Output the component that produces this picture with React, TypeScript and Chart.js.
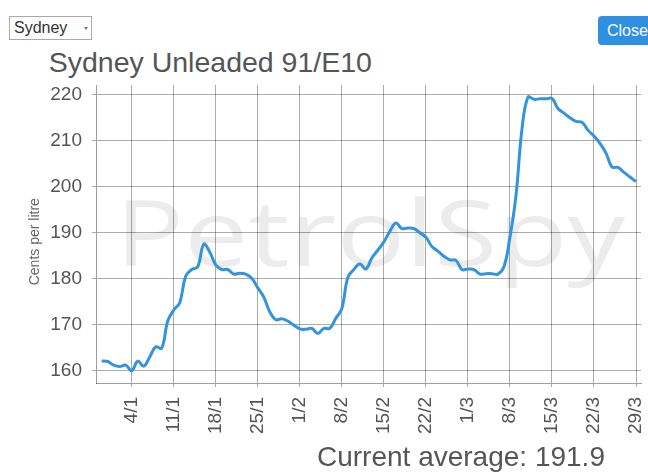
import React, { useEffect, useRef } from 'react';
import { Chart, registerables } from 'chart.js';

Chart.register(...registerables);

const FONT = "'Liberation Sans', Arial, Helvetica, sans-serif";

const dates = [
  '30/12', '31/12',
  '1/1', '2/1', '3/1', '4/1', '5/1', '6/1', '7/1', '8/1', '9/1', '10/1',
  '11/1', '12/1', '13/1', '14/1', '15/1', '16/1', '17/1', '18/1', '19/1', '20/1',
  '21/1', '22/1', '23/1', '24/1', '25/1', '26/1', '27/1', '28/1', '29/1', '30/1', '31/1',
  '1/2', '2/2', '3/2', '4/2', '5/2', '6/2', '7/2', '8/2', '9/2', '10/2',
  '11/2', '12/2', '13/2', '14/2', '15/2', '16/2', '17/2', '18/2', '19/2', '20/2',
  '21/2', '22/2', '23/2', '24/2', '25/2', '26/2', '27/2', '28/2',
  '1/3', '2/3', '3/3', '4/3', '5/3', '6/3', '7/3', '8/3', '9/3', '10/3',
  '11/3', '12/3', '13/3', '14/3', '15/3', '16/3', '17/3', '18/3', '19/3', '20/3',
  '21/3', '22/3', '23/3', '24/3', '25/3', '26/3', '27/3', '28/3', '29/3',
];

const prices = [
  162.1, 162.0,
  161.2, 160.9, 161.2, 160.0, 162.1, 161.0, 163.0, 165.2, 164.9, 170.8,
  173.2, 174.8, 180.6, 182.0, 182.6, 187.5, 185.8, 183.0, 182.0, 182.0,
  181.0, 181.2, 181.0, 180.1, 178.0, 176.0, 172.8, 171.1, 171.3, 170.8, 169.9,
  169.1, 169.0, 169.2, 168.1, 169.2, 169.2, 171.4, 173.5, 180.3, 182.0,
  183.2, 182.1, 184.5, 186.2, 188.0, 190.3, 192.1, 190.9, 191.0, 190.9,
  190.0, 189.0, 187.0, 186.0, 184.9, 184.1, 184.0, 182.0,
  182.1, 182.0, 181.0, 181.1, 181.1, 181.0, 182.6, 189.0, 198.0, 212.5,
  219.5, 219.0, 219.1, 219.1, 219.2, 217.0, 216.0, 215.0, 214.2, 214.0,
  212.3, 211.0, 209.4, 207.3, 204.3, 204.2, 203.1, 202.1, 201.1,
];

const xTickLabels = ['4/1', '11/1', '18/1', '25/1', '1/2', '8/2', '15/2', '22/2', '1/3', '8/3', '15/3', '22/3', '29/3'];
const yTickValues = [160, 170, 180, 190, 200, 210, 220];

const cityName = 'Sydney';
const chartTitle = 'Sydney Unleaded 91/E10';
const yAxisTitle = 'Cents per litre';
const watermarkText = 'PetrolSpy';
const currentAverage = 191.9;

const CANVAS_TOP = 78;
const CANVAS_W = 648;
const CANVAS_H = 394;

const decorPlugin = {
  id: 'decor',
  beforeDraw(chart: any) {
    const ctx = chart.ctx as CanvasRenderingContext2D;
    ctx.save();
    ctx.font = `400 92px 'Open Sans', 'DejaVu Sans', sans-serif`;
    ctx.textAlign = 'left';
    ctx.textBaseline = 'alphabetic';
    const m = ctx.measureText(watermarkText);
    const extent = m.actualBoundingBoxLeft + m.actualBoundingBoxRight;
    const sx = 501 / extent;
    ctx.translate(125, 0);
    ctx.scale(sx, 1);
    ctx.fillStyle = '#ececec';
    ctx.fillText(watermarkText, m.actualBoundingBoxLeft, 266 - CANVAS_TOP);
    ctx.restore();
  },
  afterDraw(chart: any) {
    const ctx = chart.ctx as CanvasRenderingContext2D;
    ctx.save();
    ctx.translate(35.5, 241.7 - CANVAS_TOP);
    ctx.rotate(-Math.PI / 2);
    ctx.font = `14px ${FONT}`;
    ctx.fillStyle = '#666';
    ctx.textAlign = 'center';
    ctx.textBaseline = 'middle';
    ctx.fillText(yAxisTitle, 0, 0);
    ctx.restore();
  },
};

function PriceChart() {
  const ref = useRef<HTMLCanvasElement | null>(null);
  useEffect(() => {
    if (!ref.current) return;
    const points = prices.map((p, i) => ({ x: i, y: p }));
    const gridColor = 'rgba(0,0,0,0.33)';
    const chart = new Chart(ref.current, {
      type: 'line',
      data: {
        datasets: [
          {
            data: points,
            borderColor: '#3394dd',
            backgroundColor: '#3394dd',
            borderWidth: 3,
            pointRadius: 0,
            fill: false,
            tension: 0.4,
          },
        ],
      },
      options: {
        animation: false,
        responsive: false,
        events: [],
        layout: { padding: { left: 0, top: 7, right: 7, bottom: 0 } },
        plugins: { legend: { display: false }, tooltip: { enabled: false }, title: { display: false } },
        scales: {
          x: {
            type: 'linear',
            min: -0.946,
            max: 89.83,
            afterBuildTicks: (s: any) => {
              s.ticks = xTickLabels.map((l) => ({ value: dates.indexOf(l) }));
            },
            afterFit: (s: any) => {
              s.height = CANVAS_H - 305;
              s.paddingLeft = 0;
              s.paddingRight = 0;
              s.paddingTop = 0;
              s.paddingBottom = 0;
            },
            grid: { color: gridColor, tickLength: 4, drawTicks: true },
            border: { color: 'rgba(0,0,0,0.38)' },
            ticks: {
              autoSkip: false,
              maxRotation: 90,
              minRotation: 90,
              padding: 10,
              color: '#555',
              font: { size: 19, family: FONT },
              callback: (v: any) => dates[Number(v)] ?? '',
            },
          },
          y: {
            type: 'linear',
            min: 157.33,
            max: 222.11,
            afterBuildTicks: (s: any) => {
              s.ticks = yTickValues.map((v) => ({ value: v }));
            },
            afterFit: (s: any) => {
              s.width = 96;
              s.paddingLeft = 0;
              s.paddingRight = 0;
              s.paddingTop = 0;
              s.paddingBottom = 0;
            },
            grid: { color: gridColor, tickLength: 4, drawTicks: true },
            border: { color: 'rgba(0,0,0,0.38)' },
            ticks: {
              padding: 10,
              color: '#555',
              font: { size: 19, family: FONT },
              callback: (v: any) => String(v),
            },
          },
        },
      },
      plugins: [decorPlugin],
    } as any);
    return () => chart.destroy();
  }, []);
  return (
    <canvas
      ref={ref}
      width={CANVAS_W}
      height={CANVAS_H}
      style={{ position: 'absolute', left: 0, top: CANVAS_TOP, width: CANVAS_W, height: CANVAS_H }}
    />
  );
}

export default function App() {
  return (
    <div
      style={{
        position: 'absolute',
        left: 0,
        top: 0,
        width: 648,
        height: 472,
        overflow: 'hidden',
        background: '#fff',
        fontFamily: FONT,
      }}
    >
      <div
        style={{
          position: 'absolute',
          left: 9,
          top: 16,
          width: 83,
          height: 24,
          boxSizing: 'border-box',
          border: '1px solid #aaa',
          background: '#fdfdfd',
          color: '#333',
          fontSize: 16,
          lineHeight: '22px',
          paddingLeft: 4,
        }}
      >
        {cityName}
        <span
          style={{
            position: 'absolute',
            left: 74,
            top: 10,
            width: 0,
            height: 0,
            borderLeft: '2.5px solid transparent',
            borderRight: '2.5px solid transparent',
            borderTop: '3px solid #777',
          }}
        />
      </div>
      <div
        style={{
          position: 'absolute',
          left: 598,
          top: 16,
          width: 62,
          height: 29,
          borderRadius: 4,
          background: '#2f8fe0',
          color: '#fff',
          fontSize: 16,
          lineHeight: '29px',
          paddingLeft: 9,
          boxSizing: 'border-box',
        }}
      >
        Close
      </div>
      <div
        style={{
          position: 'absolute',
          left: 48.7,
          top: 47.8,
          fontSize: 28.5,
          lineHeight: '28.5px',
          color: '#555',
          whiteSpace: 'nowrap',
        }}
      >
        {chartTitle}
      </div>
      <PriceChart />
      <div
        style={{
          position: 'absolute',
          left: 317,
          top: 443,
          fontSize: 28,
          lineHeight: '28px',
          color: '#555',
          whiteSpace: 'nowrap',
        }}
      >
        {`Current average: ${currentAverage.toFixed(1)}`}
      </div>
    </div>
  );
}
